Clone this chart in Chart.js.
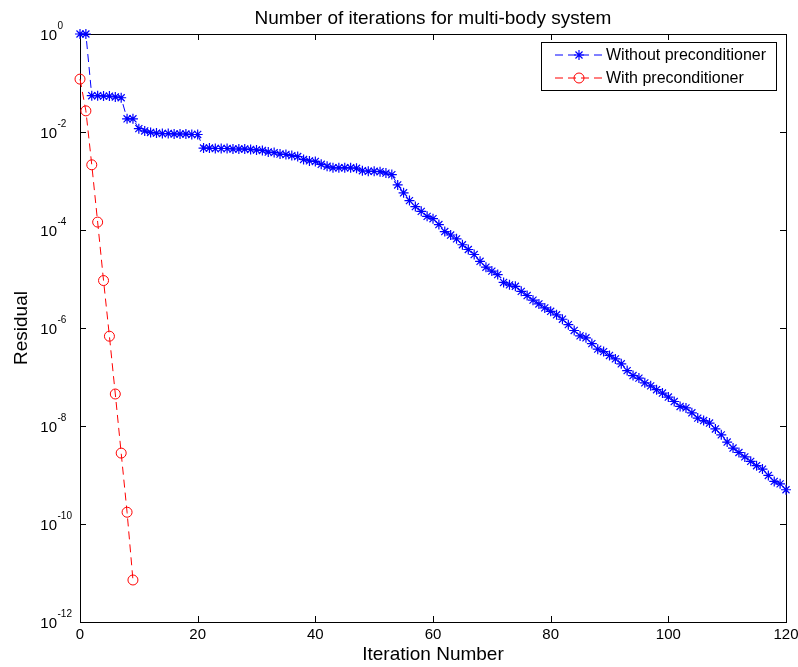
<!DOCTYPE html>
<html>
<head>
<meta charset="utf-8">
<script src="https://cdn.jsdelivr.net/npm/chart.js@4.4.1/dist/chart.umd.min.js"></script>
<style>
  html, body { margin: 0; padding: 0; background: #fff; }
  canvas { display: block; }
</style>
</head>
<body>
<canvas id="residualChart" width="798" height="667"></canvas>
<script>
    // Residual per iteration (index = iteration number)
    const withoutPrecond = [
        1, 1, 5.5e-2, 5.5e-2, 5.4e-2, 5.4e-2, 5.2e-2, 5.0e-2, 1.86e-2, 1.86e-2,
        1.17e-2, 1.05e-2, 9.8e-3, 9.5e-3, 9.3e-3, 9.3e-3, 9.1e-3, 9.1e-3, 9.1e-3, 8.9e-3,
        8.9e-3, 4.7e-3, 4.7e-3, 4.6e-3, 4.6e-3, 4.6e-3, 4.5e-3, 4.5e-3, 4.5e-3, 4.4e-3,
        4.3e-3, 4.2e-3, 3.9e-3, 3.8e-3, 3.55e-3, 3.47e-3, 3.3e-3, 3.16e-3, 2.75e-3, 2.57e-3,
        2.51e-3, 2.19e-3, 2.0e-3, 1.86e-3, 1.86e-3, 1.86e-3, 1.86e-3, 1.82e-3, 1.62e-3, 1.58e-3,
        1.58e-3, 1.55e-3, 1.45e-3, 1.35e-3, 8.3e-4, 5.75e-4, 3.98e-4, 3.0e-4, 2.4e-4, 1.9e-4,
        1.7e-4, 1.29e-4, 9.3e-5, 7.9e-5, 6.6e-5, 5.0e-5, 4.0e-5, 3.16e-5, 2.3e-5, 1.74e-5,
        1.45e-5, 1.23e-5, 8.5e-6, 7.6e-6, 7.1e-6, 5.6e-6, 4.6e-6, 3.7e-6, 3.1e-6, 2.57e-6,
        2.19e-6, 1.86e-6, 1.51e-6, 1.17e-6, 8.9e-7, 6.9e-7, 6.3e-7, 4.8e-7, 3.7e-7, 3.3e-7,
        2.75e-7, 2.34e-7, 1.86e-7, 1.35e-7, 1.07e-7, 9.5e-8, 7.6e-8, 6.6e-8, 5.5e-8, 4.7e-8,
        3.9e-8, 3.16e-8, 2.51e-8, 2.34e-8, 1.86e-8, 1.45e-8, 1.29e-8, 1.15e-8, 8.7e-9, 6.6e-9,
        4.7e-9, 3.55e-9, 2.88e-9, 2.34e-9, 1.9e-9, 1.55e-9, 1.32e-9, 9.8e-10, 7.4e-10, 6.6e-10,
        5.0e-10
    ];
    const withPrecond = [
        0.12, 2.7e-2, 2.14e-3, 1.45e-4, 9.3e-6, 6.8e-7, 4.5e-8, 2.8e-9, 1.74e-10, 7.2e-12
    ];
    const seriesNames = ['Without preconditioner', 'With preconditioner'];
    const xTicks = [0, 20, 40, 60, 80, 100, 120];
    const yTickExponents = [0, -2, -4, -6, -8, -10, -12];

    const FONT = '"Liberation Sans", Arial, sans-serif';

    // dibuja el marco tipo MATLAB, etiquetas 10^n, titulo y leyenda
    const matlabLook = {
        id: 'matlabLook',
        beforeDatasetsDraw(chart) {
            const { ctx, chartArea: a, scales } = chart;
            ctx.save();
            ctx.strokeStyle = '#000';
            ctx.lineWidth = 1;
            ctx.strokeRect(Math.round(a.left) + 0.5, Math.round(a.top) + 0.5,
                Math.round(a.right - a.left), Math.round(a.bottom - a.top));
            ctx.beginPath();
            xTicks.forEach(t => {
                const px = Math.round(scales.x.getPixelForValue(t)) + 0.5;
                ctx.moveTo(px, a.bottom); ctx.lineTo(px, a.bottom - 6);
                ctx.moveTo(px, a.top); ctx.lineTo(px, a.top + 6);
            });
            yTickExponents.forEach(e => {
                const py = Math.round(scales.y.getPixelForValue(Math.pow(10, e))) + 0.5;
                ctx.moveTo(a.left, py); ctx.lineTo(a.left + 6, py);
                ctx.moveTo(a.right, py); ctx.lineTo(a.right - 6, py);
            });
            ctx.stroke();
            ctx.restore();
        },
        afterDraw(chart) {
            const { ctx, chartArea: a, scales } = chart;
            ctx.save();
            ctx.fillStyle = '#000';

            // etiquetas del eje y
            yTickExponents.forEach(e => {
                const py = scales.y.getPixelForValue(Math.pow(10, e));
                ctx.font = '15px ' + FONT;
                ctx.textAlign = 'right';
                ctx.textBaseline = 'alphabetic';
                ctx.fillText('10', 57, py + 5.5);
                ctx.font = '10px ' + FONT;
                ctx.textAlign = 'left';
                ctx.fillText(String(e), 57.5, py - 5);
            });

            // titulo
            ctx.font = '19px ' + FONT;
            ctx.textAlign = 'center';
            ctx.fillText('Number of iterations for multi-body system', (a.left + a.right) / 2, 24);

            // leyenda
            const box = { x: 541.5, y: 42.5, w: 235, h: 48 };
            ctx.fillStyle = '#fff';
            ctx.fillRect(box.x, box.y, box.w, box.h);
            ctx.strokeStyle = '#000';
            ctx.lineWidth = 1;
            ctx.strokeRect(box.x, box.y, box.w, box.h);
            chart.data.datasets.forEach((ds, i) => {
                const y = 55 + i * 23;
                ctx.strokeStyle = ds.borderColor;
                ctx.setLineDash(ds.borderDash);
                ctx.beginPath();
                ctx.moveTo(555, y); ctx.lineTo(603, y);
                ctx.stroke();
                ctx.setLineDash([]);
                ctx.strokeStyle = ds.pointBorderColor;
                ctx.fillStyle = ds.pointBackgroundColor;
                ctx.lineWidth = ds.pointBorderWidth;
                Chart.helpers.drawPoint(ctx, {
                    pointStyle: ds.pointStyle, rotation: 0,
                    radius: ds.pointRadius, borderWidth: ds.pointBorderWidth
                }, 579, y);
                ctx.fillStyle = '#000';
                ctx.font = '16px ' + FONT;
                ctx.textAlign = 'left';
                ctx.textBaseline = 'middle';
                ctx.fillText(ds.label, 606, y + 1);
            });
            ctx.restore();
        }
    };

    const ctx = document.getElementById('residualChart').getContext('2d');
    const residualChart = new Chart(ctx, {
        type: 'line',
        data: {
            datasets: [{
                label: seriesNames[0],
                data: withoutPrecond.map((r, i) => ({ x: i, y: r })),
                borderColor: '#0000ff',
                borderWidth: 1,
                borderDash: [8, 5],
                pointStyle: 'star',
                pointRadius: 5,
                pointBorderColor: '#0000ff',
                pointBorderWidth: 1.2,
                pointBackgroundColor: '#0000ff',
                fill: false,
                tension: 0,
                clip: false
            }, {
                label: seriesNames[1],
                data: withPrecond.map((r, i) => ({ x: i, y: r })),
                borderColor: '#ff0000',
                borderWidth: 1,
                borderDash: [8, 5],
                pointStyle: 'circle',
                pointRadius: 5,
                pointBorderColor: '#ff0000',
                pointBorderWidth: 1,
                pointBackgroundColor: 'rgba(0,0,0,0)',
                fill: false,
                tension: 0,
                clip: false
            }]
        },
        options: {
            responsive: false,
            animation: false,
            devicePixelRatio: 1,
            layout: { padding: { top: 34, right: 12, left: 0, bottom: 0 } },
            plugins: {
                legend: { display: false },
                title: { display: false },
                tooltip: { enabled: false }
            },
            scales: {
                x: {
                    type: 'linear',
                    min: 0,
                    max: 120,
                    afterBuildTicks: s => { s.ticks = xTicks.map(v => ({ value: v })); },
                    afterFit: s => { s.height = 45; s.paddingLeft = 0; s.paddingRight = 0; },
                    grid: { display: false, drawTicks: false },
                    border: { display: false },
                    ticks: {
                        color: '#000',
                        font: { family: FONT, size: 15 },
                        padding: 4,
                        maxRotation: 0
                    },
                    title: {
                        display: true,
                        text: 'Iteration Number',
                        color: '#000',
                        font: { family: FONT, size: 19 },
                        padding: { top: 0, bottom: 1 }
                    }
                },
                y: {
                    type: 'logarithmic',
                    min: 1e-12,
                    max: 1,
                    afterBuildTicks: s => { s.ticks = yTickExponents.map(e => ({ value: Math.pow(10, e) })); },
                    afterFit: s => { s.width = 80; s.paddingTop = 0; s.paddingBottom = 0; },
                    grid: { display: false, drawTicks: false },
                    border: { display: false },
                    ticks: { display: false },
                    title: {
                        display: true,
                        text: 'Residual',
                        color: '#000',
                        font: { family: FONT, size: 19 },
                        padding: { top: 10, bottom: 0 }
                    }
                }
            }
        },
        plugins: [matlabLook]
    });
</script>
</body>
</html>
